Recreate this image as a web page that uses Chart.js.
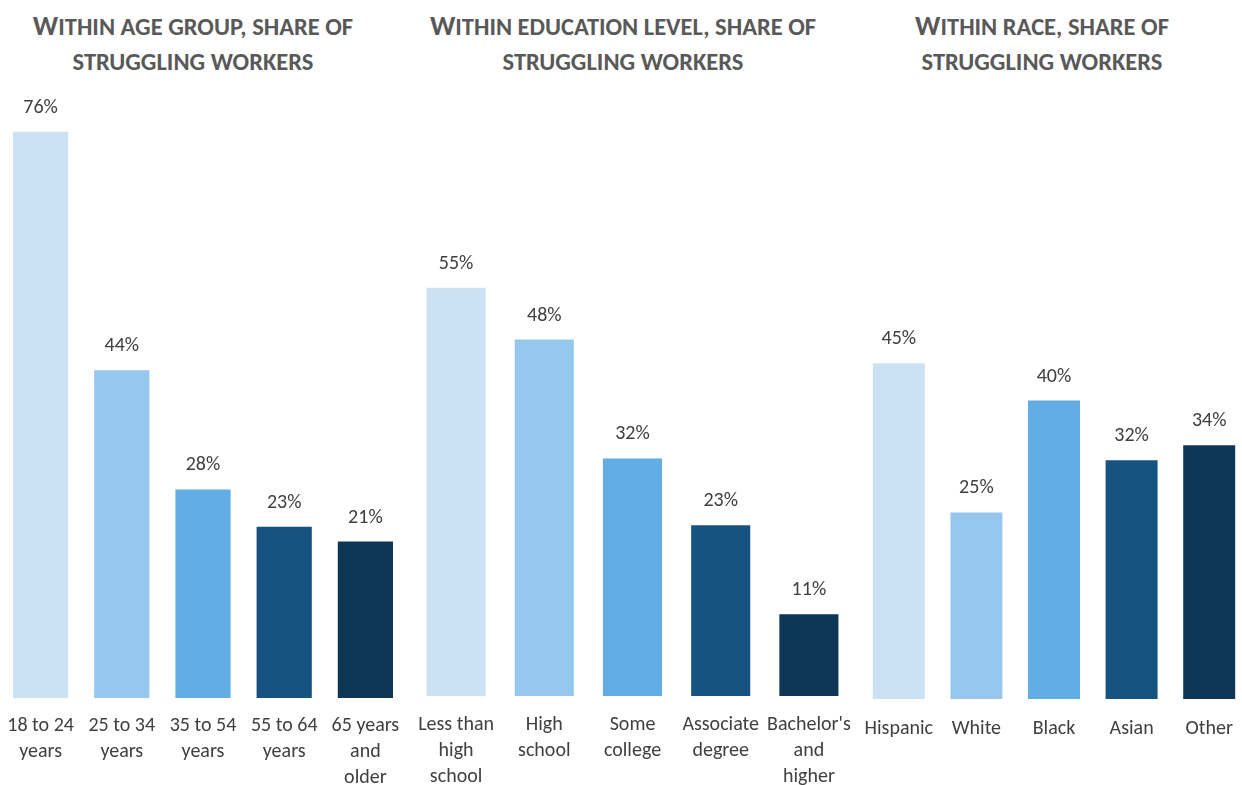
<!DOCTYPE html>
<html>
<head>
<meta charset="utf-8">
<script src="https://cdn.jsdelivr.net/npm/chart.js@4.4.1/dist/chart.umd.min.js"></script>
<style>
  html, body { margin: 0; padding: 0; background: #fff; overflow: hidden; }
  body { width: 1242px; height: 785px; position: relative; }
  .title {
    position: absolute; top: 8px; width: 440px;
    text-align: center; font-family: Carlito, Lato, sans-serif; font-weight: bold;
    font-size: 24.5px; line-height: 35px; color: #595959; text-transform: uppercase;
  }
  .title .big { font-size: 28px; }
  .box { position: absolute; top: 0; height: 785px; }
</style>
</head>
<body>
<div class="title" style="left:-27px"><span class="big">W</span>ithin age group, share of<br>struggling workers</div>
<div class="title" style="left:403px"><span class="big">W</span>ithin education level, share of<br>struggling workers</div>
<div class="title" style="left:822px"><span class="big">W</span>ithin race, share of<br>struggling workers</div>

<div class="box" style="left:0px;width:406px"><canvas id="c0"></canvas></div>
<div class="box" style="left:412px;width:441px"><canvas id="c1"></canvas></div>
<div class="box" style="left:860px;width:388px"><canvas id="c2"></canvas></div>

<script>
const ageLabels = [["18 to 24", "years"], ["25 to 34", "years"], ["35 to 54", "years"], ["55 to 64", "years"], ["65 years", "and", "older"]];
const ageValues = [76, 44, 28, 23, 21];

const eduLabels = [["Less than", "high", "school"], ["High", "school"], ["Some", "college"], ["Associate", "degree"], ["Bachelor's", "and", "higher"]];
const eduValues = [55, 48, 32, 23, 11];

const raceLabels = ["Hispanic", "White", "Black", "Asian", "Other"];
const raceValues = [45, 25, 40, 32, 34];

const barColors = ["#CBE2F5", "#95C8EC", "#61ADE4", "#175380", "#0F3656"];

const fontFamily = "Carlito, Lato, sans-serif";

// value labels above each bar
const valueLabels = {
    id: "valueLabels",
    afterDatasetsDraw(chart)
    {
        const ctx = chart.ctx;
        const meta = chart.getDatasetMeta(0);
        ctx.save();
        ctx.font = "20px " + fontFamily;
        ctx.fillStyle = "#404040";
        ctx.textAlign = "center";
        ctx.textBaseline = "middle";
        meta.data.forEach(function(bar, i)
        {
            ctx.fillText(chart.data.datasets[0].data[i] + "%", bar.x, bar.y - 24);
        });
        ctx.restore();
    }
};

function makeChart(id, labels, values, axisHeight, barPct, tickPad)
{
    const ctx = document.getElementById(id).getContext("2d");
    return new Chart(ctx,
    {
        type: "bar",
        data:
        {
            labels: labels,
            datasets:
            [{
                data: values,
                backgroundColor: barColors,
                barPercentage: barPct,
                categoryPercentage: 1
            }]
        },
        options:
        {
            responsive: true,
            maintainAspectRatio: false,
            animation: false,
            layout: { padding: { top: 102, left: 0, right: 0, bottom: 0 } },
            plugins: { legend: { display: false }, tooltip: { enabled: false } },
            scales:
            {
                x:
                {
                    grid: { display: false, drawTicks: false },
                    border: { display: false },
                    ticks:
                    {
                        autoSkip: false, maxRotation: 0, minRotation: 0,
                        padding: tickPad,
                        color: "#404040",
                        font: { family: fontFamily, size: 20, lineHeight: 1.3 }
                    },
                    afterFit: function(scale)
                    {
                        scale.height = axisHeight;
                        scale.paddingLeft = 0;
                        scale.paddingRight = 0;
                    }
                },
                y: { display: false, min: 0, max: 80 }
            }
        },
        plugins: [valueLabels]
    });
}

makeChart("c0", ageLabels, ageValues, 87, 0.68, 15);
makeChart("c1", eduLabels, eduValues, 89, 0.67, 16);
makeChart("c2", raceLabels, raceValues, 86, 0.67, 17);
</script>
</body>
</html>
